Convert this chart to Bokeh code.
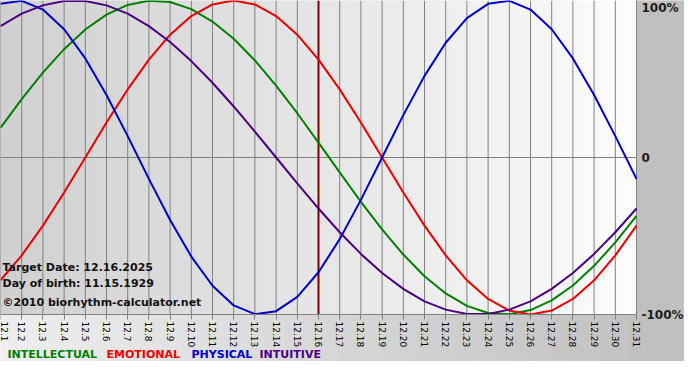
import math
import numpy as np
from bokeh.plotting import figure
from bokeh.models import Range1d, LinearAxis, FixedTicker, Label
from bokeh.core.properties import value
from bokeh.embed import file_html
from bokeh.resources import INLINE

# ---------------- data ----------------
days = [1, 2, 3, 4, 5, 6, 7, 8, 9, 10, 11, 12, 13, 14, 15, 16,
        17, 18, 19, 20, 21, 22, 23, 24, 25, 26, 27, 28, 29, 30, 31]
tick_labels = ["12.1", "12.2", "12.3", "12.4", "12.5", "12.6", "12.7", "12.8",
               "12.9", "12.10", "12.11", "12.12", "12.13", "12.14", "12.15",
               "12.16", "12.17", "12.18", "12.19", "12.20", "12.21", "12.22",
               "12.23", "12.24", "12.25", "12.26", "12.27", "12.28", "12.29",
               "12.30", "12.31"]

intellectual = [0.189, 0.372, 0.541, 0.690, 0.815, 0.910, 0.972, 0.999, 0.990, 0.945,
                0.866, 0.756, 0.618, 0.458, 0.282, 0.095, -0.095, -0.282, -0.458, -0.618,
                -0.756, -0.866, -0.945, -0.990, -0.999, -0.972, -0.910, -0.815, -0.690,
                -0.541, -0.372]
emotional = [-0.782, -0.623, -0.434, -0.223, 0.0, 0.223, 0.434, 0.623, 0.782, 0.901,
             0.975, 1.0, 0.975, 0.901, 0.782, 0.623, 0.434, 0.223, 0.0, -0.223,
             -0.434, -0.623, -0.782, -0.901, -0.975, -1.0, -0.975, -0.901, -0.782,
             -0.623, -0.434]
physical = [0.979, 0.998, 0.942, 0.817, 0.631, 0.398, 0.136, -0.136, -0.398, -0.631,
            -0.817, -0.942, -0.998, -0.979, -0.888, -0.731, -0.520, -0.270, 0.0, 0.270,
            0.520, 0.731, 0.888, 0.979, 0.998, 0.942, 0.817, 0.631, 0.398, 0.136,
            -0.136]
intuitive = [0.837, 0.916, 0.969, 0.997, 0.997, 0.969, 0.916, 0.837, 0.736, 0.614,
             0.476, 0.325, 0.165, 0.0, -0.165, -0.325, -0.476, -0.614, -0.736, -0.837,
             -0.916, -0.969, -0.997, -0.997, -0.969, -0.916, -0.837, -0.736, -0.614,
             -0.476, -0.325]

target_day = 16
y_ticks = [1, 0, -1]
y_tick_labels = ["100%", "0", "-100%"]
info_lines = ["Target Date: 12.16.2025", "Day of birth: 11.15.1929",
              "\u00a92010 biorhythm-calculator.net"]
series_names = ["INTELLECTUAL", "EMOTIONAL", "PHYSICAL", "INTUITIVE"]

# ---------------- styles / layout ----------------
COLORS = {"INTELLECTUAL": "#008000", "EMOTIONAL": "#ee0000",
          "PHYSICAL": "#0000cc", "INTUITIVE": "#4b0082"}
GRID = "#808080"
W, H = 684, 364
PLOT_W, PLOT_H = 636, 314
x0, x1 = days[0], days[-1]
x_end = x1 + (x1 - x0) * (W - PLOT_W) / PLOT_W
y_start = 1 - 2 * H / PLOT_H
y_panel_bottom = 1 - 2 * (H - 4) / PLOT_H

p = figure(width=W, height=H, x_range=Range1d(x0, x_end), y_range=Range1d(y_start, 1),
           output_backend="svg", toolbar_location=None,
           x_axis_type=None, y_axis_type=None,
           min_border_left=0, min_border_right=0, min_border_top=0, min_border_bottom=0)
p.outline_line_color = None
p.background_fill_color = "white"
p.border_fill_color = "white"


def grays(c0, c1, n):
    vals = np.round(np.linspace(c0, c1, n)).astype(int)
    return ["#%02x%02x%02x" % (v, v, v) for v in vals]


n = 150
edges = np.linspace(x0, x1, n + 1)
plot_cols = grays(0xd0, 0xfc, n)
p.quad(left=edges[:-1], right=edges[1:], bottom=-1, top=1,
       fill_color=plot_cols, line_color=plot_cols, line_width=1)
bot_cols = grays(0xee, 0xc2, n)
p.quad(left=edges[:-1], right=edges[1:], bottom=y_panel_bottom, top=-1,
       fill_color=bot_cols, line_color=bot_cols, line_width=1)
p.quad(left=[x1], right=[x_end], bottom=[y_panel_bottom], top=[1],
       fill_color="#c0c0c0", line_color="#c0c0c0")

# vertical day grid + zero line
p.segment(x0=days, y0=-1, x1=days, y1=1, line_color=GRID, line_width=1)
p.segment(x0=[x0], y0=[0], x1=[x1], y1=[0], line_color=GRID, line_width=1)

# target date line
p.segment(x0=[target_day], y0=[-1], x1=[target_day], y1=[1],
          line_color="#800000", line_width=2)

for name, vals in zip(series_names, [intellectual, emotional, physical, intuitive]):
    p.line(days, vals, line_color=COLORS[name], line_width=2)

# x axis drawn at the -100% line
xaxis = LinearAxis(fixed_location=-1, ticker=FixedTicker(ticks=days),
                   major_label_overrides={d: l for d, l in zip(days, tick_labels)},
                   bounds=(x0, x1))
xaxis.axis_line_color = GRID
xaxis.major_tick_line_color = GRID
xaxis.major_tick_out = 5
xaxis.major_tick_in = 0
xaxis.minor_tick_line_color = None
xaxis.major_label_orientation = -math.pi / 2
xaxis.major_label_standoff = 2
xaxis.major_label_text_font = "DejaVu Sans"
xaxis.major_label_text_font_size = "9px"
xaxis.major_label_text_color = "#000000"
p.add_layout(xaxis, "below")

# right-hand value labels
p.text(x=[x1], y=y_ticks[:1], text=y_tick_labels[:1], x_offset=5, y_offset=0,
       text_baseline="top", text_align="left", text_font=value("DejaVu Sans"),
       text_font_style="bold", text_font_size="12px", text_color="#1a1a1a")
p.text(x=[x1, x1], y=y_ticks[1:], text=y_tick_labels[1:], x_offset=5,
       text_baseline="middle", text_align="left", text_font=value("DejaVu Sans"),
       text_font_style="bold", text_font_size="12px", text_color="#1a1a1a")

# info texts
for txt, yy in zip(info_lines, [97, 81, 62]):
    p.add_layout(Label(x=2, y=yy, x_units="screen", y_units="screen", text=txt,
                       text_font="DejaVu Sans", text_font_style="bold",
                       text_font_size="11px", text_baseline="middle",
                       text_color="#111111"))

# legend as coloured words
for name, xx in zip(series_names, [7, 106, 191, 259]):
    p.add_layout(Label(x=xx, y=10, x_units="screen", y_units="screen", text=name,
                       text_font="DejaVu Sans", text_font_style="bold",
                       text_font_size="11px", text_baseline="middle",
                       text_color=COLORS[name]))

open("out.html", "w", encoding="utf-8").write(file_html(p, INLINE))
